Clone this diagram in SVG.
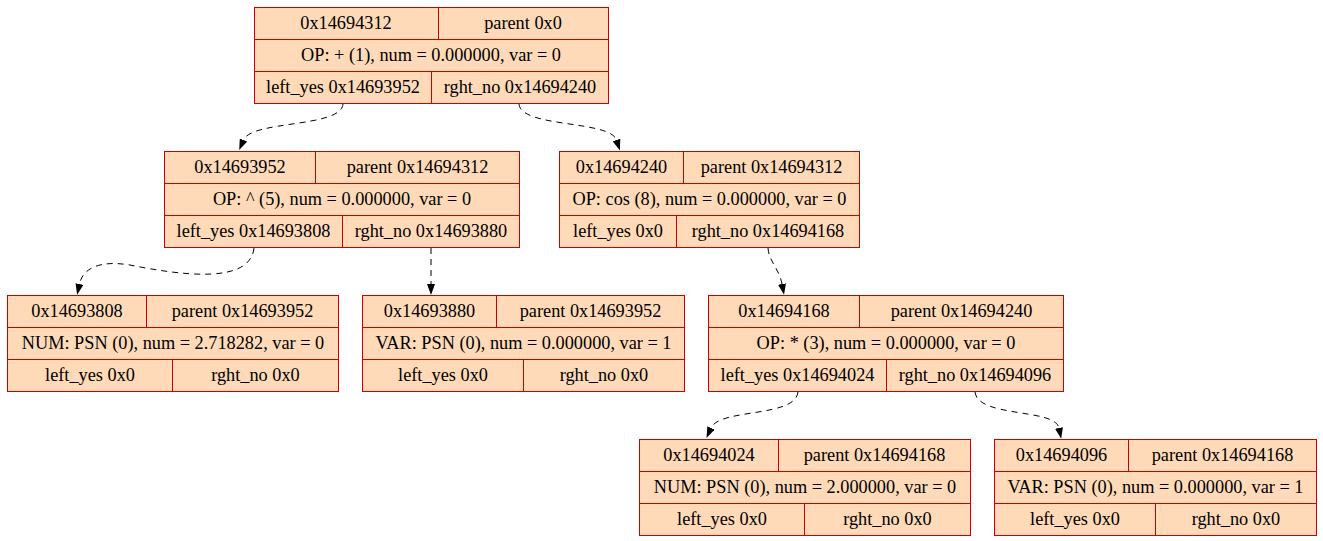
<svg xmlns="http://www.w3.org/2000/svg" width="1323" height="541" viewBox="0 0 1323 541">
<style>
.bg{fill:#ffffff}
.box{fill:#ffdab9;stroke:#cd0000;stroke-width:1}
.div{stroke:#cd0000;stroke-width:1;fill:none}
.t{font-family:'Liberation Serif','Times New Roman','DejaVu Serif',serif;font-size:18.3px;fill:#000;text-anchor:middle}
.edge{fill:none;stroke:#000;stroke-width:1;stroke-dasharray:6,5}
</style>
<defs>
<marker id="arr" viewBox="0 0 11 8" refX="0" refY="4" markerWidth="11" markerHeight="8" markerUnits="userSpaceOnUse" orient="auto">
<path d="M0,0 L11,4 L0,8 z" fill="#000"/>
</marker>
</defs>
<rect class="bg" x="0" y="0" width="1323" height="541"/>

<g id="edges">
<path class="edge" marker-end="url(#arr)" d="M343,104 C341,128 252,120 243.5,140"/>
<path class="edge" marker-end="url(#arr)" d="M519,104 C521,128 610,120 616.5,140"/>
<path class="edge" marker-end="url(#arr)" d="M254,248 C250,285 180,275 130,265 C100,260 83,268 79.5,284"/>
<path class="edge" marker-end="url(#arr)" d="M431,248 L431,284"/>
<path class="edge" marker-end="url(#arr)" d="M768,248 C769,262 779,268 782,284"/>
<path class="edge" marker-end="url(#arr)" d="M798,392 C795,418 720,408 711,428"/>
<path class="edge" marker-end="url(#arr)" d="M975,392 C978,418 1055,408 1059,428"/>
</g>

<g id="n0x14694312" class="t">
<rect class="box" x="254.5" y="7.5" width="354" height="96"/>
<path class="div" d="M254.5,39.5 H608.5 M254.5,71.5 H608.5 M438.5,7.5 V39.5 M431.5,71.5 V103.5"/>
<text x="346" y="29">0x14694312</text>
<text x="523" y="29">parent 0x0</text>
<text x="431" y="61">OP: + (1), num = 0.000000, var = 0</text>
<text x="343" y="93">left_yes 0x14693952</text>
<text x="520" y="93">rght_no 0x14694240</text>
</g>

<g id="n0x14693952" class="t">
<rect class="box" x="164.5" y="151.5" width="355" height="96"/>
<path class="div" d="M164.5,183.5 H519.5 M164.5,215.5 H519.5 M315.5,151.5 V183.5 M342.5,215.5 V247.5"/>
<text x="240" y="173">0x14693952</text>
<text x="417.5" y="173">parent 0x14694312</text>
<text x="342" y="205">OP: ^ (5), num = 0.000000, var = 0</text>
<text x="253.5" y="237">left_yes 0x14693808</text>
<text x="431" y="237">rght_no 0x14693880</text>
</g>

<g id="n0x14694240" class="t">
<rect class="box" x="559.5" y="151.5" width="300" height="96"/>
<path class="div" d="M559.5,183.5 H859.5 M559.5,215.5 H859.5 M683.5,151.5 V183.5 M676.5,215.5 V247.5"/>
<text x="621.5" y="173">0x14694240</text>
<text x="771.5" y="173">parent 0x14694312</text>
<text x="709.5" y="205">OP: cos (8), num = 0.000000, var = 0</text>
<text x="618" y="237">left_yes 0x0</text>
<text x="768" y="237">rght_no 0x14694168</text>
</g>

<g id="n0x14693808" class="t">
<rect class="box" x="7.5" y="295.5" width="331" height="96"/>
<path class="div" d="M7.5,327.5 H338.5 M7.5,359.5 H338.5 M146.5,295.5 V327.5 M172.5,359.5 V391.5"/>
<text x="77" y="317">0x14693808</text>
<text x="242.5" y="317">parent 0x14693952</text>
<text x="173" y="349">NUM: PSN (0), num = 2.718282, var = 0</text>
<text x="90" y="381">left_yes 0x0</text>
<text x="255.5" y="381">rght_no 0x0</text>
</g>

<g id="n0x14693880" class="t">
<rect class="box" x="362.5" y="295.5" width="322" height="96"/>
<path class="div" d="M362.5,327.5 H684.5 M362.5,359.5 H684.5 M496.5,295.5 V327.5 M523.5,359.5 V391.5"/>
<text x="429.5" y="317">0x14693880</text>
<text x="590.5" y="317">parent 0x14693952</text>
<text x="523.5" y="349">VAR: PSN (0), num = 0.000000, var = 1</text>
<text x="443" y="381">left_yes 0x0</text>
<text x="604" y="381">rght_no 0x0</text>
</g>

<g id="n0x14694168" class="t">
<rect class="box" x="708.5" y="295.5" width="355" height="96"/>
<path class="div" d="M708.5,327.5 H1063.5 M708.5,359.5 H1063.5 M859.5,295.5 V327.5 M886.5,359.5 V391.5"/>
<text x="784" y="317">0x14694168</text>
<text x="961.5" y="317">parent 0x14694240</text>
<text x="886" y="349">OP: * (3), num = 0.000000, var = 0</text>
<text x="797.5" y="381">left_yes 0x14694024</text>
<text x="975" y="381">rght_no 0x14694096</text>
</g>

<g id="n0x14694024" class="t">
<rect class="box" x="639.5" y="439.5" width="331" height="96"/>
<path class="div" d="M639.5,471.5 H970.5 M639.5,503.5 H970.5 M778.5,439.5 V471.5 M804.5,503.5 V535.5"/>
<text x="709" y="461">0x14694024</text>
<text x="874.5" y="461">parent 0x14694168</text>
<text x="805" y="493">NUM: PSN (0), num = 2.000000, var = 0</text>
<text x="722" y="525">left_yes 0x0</text>
<text x="887.5" y="525">rght_no 0x0</text>
</g>

<g id="n0x14694096" class="t">
<rect class="box" x="994.5" y="439.5" width="322" height="96"/>
<path class="div" d="M994.5,471.5 H1316.5 M994.5,503.5 H1316.5 M1128.5,439.5 V471.5 M1155.5,503.5 V535.5"/>
<text x="1061.5" y="461">0x14694096</text>
<text x="1222.5" y="461">parent 0x14694168</text>
<text x="1155.5" y="493">VAR: PSN (0), num = 0.000000, var = 1</text>
<text x="1075" y="525">left_yes 0x0</text>
<text x="1236" y="525">rght_no 0x0</text>
</g>
</svg>
